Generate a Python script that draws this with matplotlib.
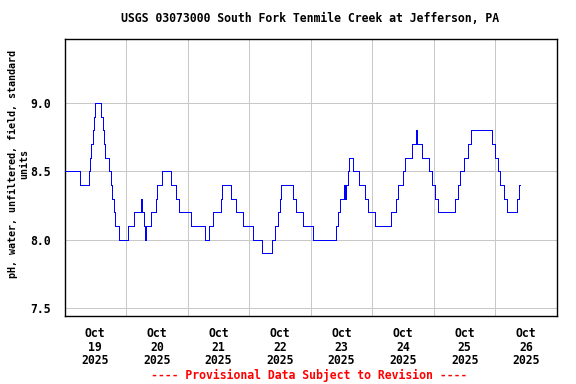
import numpy as np
import matplotlib.pyplot as plt

# pH readings, hours since 2025-10-19 00:00 when the value changed
hours = [0.0, 5.9, 9.4, 10.0, 10.4, 11.2, 11.6, 12.0, 14.1, 15.1, 15.5, 15.9,
         17.4, 18.0, 18.6, 19.1, 19.7, 21.1, 24.8, 27.1, 29.9, 30.4, 30.9,
         31.5, 31.9, 33.7, 35.5, 36.0, 38.0, 41.5, 43.4, 44.5, 49.3, 54.7,
         56.2, 57.7, 61.0, 61.5, 64.9, 66.8, 69.7, 73.5, 77.0, 80.9, 82.0,
         83.2, 84.1, 84.5, 89.2, 90.3, 93.1, 96.7, 105.8, 106.5, 107.3,
         108.8, 109.2, 109.6, 110.6, 110.9, 112.6, 114.9, 117.1, 118.4,
         121.1, 127.2, 129.2, 129.9, 131.9, 132.8, 135.6, 137.1, 137.5,
         139.5, 142.2, 143.4, 144.5, 145.7, 152.3, 153.5, 154.3, 155.8,
         157.4, 158.6, 166.5, 167.7, 168.9, 169.7, 171.3, 172.7, 176.3,
         177.0, 177.5]
ph = [8.5, 8.4, 8.5, 8.6, 8.7, 8.8, 8.9, 9.0, 8.9, 8.8, 8.7, 8.6,
      8.5, 8.4, 8.3, 8.2, 8.1, 8.0, 8.1, 8.2, 8.3, 8.2, 8.1,
      8.0, 8.1, 8.2, 8.3, 8.4, 8.5, 8.4, 8.3, 8.2, 8.1, 8.0,
      8.1, 8.2, 8.3, 8.4, 8.3, 8.2, 8.1, 8.0, 7.9, 8.0, 8.1,
      8.2, 8.3, 8.4, 8.3, 8.2, 8.1, 8.0, 8.1, 8.2, 8.3,
      8.4, 8.3, 8.4, 8.5, 8.6, 8.5, 8.4, 8.3, 8.2,
      8.1, 8.2, 8.3, 8.4, 8.5, 8.6, 8.7, 8.8, 8.7,
      8.6, 8.5, 8.4, 8.3, 8.2, 8.3, 8.4, 8.5, 8.6,
      8.7, 8.8, 8.7, 8.6, 8.5, 8.4, 8.3, 8.2, 8.3,
      8.4, 8.4]

days = ['19', '20', '21', '22', '23', '24', '25', '26']
yticks = [7.5, 8.0, 8.5, 9.0]

plt.rcParams['font.family'] = 'DejaVu Sans Mono'
plt.rcParams['font.weight'] = 'bold'
plt.rcParams['font.size'] = 8.3

fig = plt.figure(figsize=(5.76, 3.84), dpi=100)
ax = fig.add_axes([0.112, 0.177, 0.855, 0.721])

ax.plot(hours, ph, drawstyle='steps-post', color='#0000ff', lw=0.72,
        antialiased=False, zorder=3)

ax.set_xlim(0, 24 * len(days))
ax.set_ylim(7.44, 9.466)

ax.set_xticks([12 + 24 * i for i in range(len(days))])
ax.set_xticklabels(['Oct\n%s\n2025' % d for d in days], linespacing=1.05)
ax.set_xticks([24 * i for i in range(1, len(days))], minor=True)
ax.set_yticks(yticks)
ax.set_yticklabels(['%.1f' % v for v in yticks])

ax.grid(True, which='minor', axis='x', color='#c8c8c8', lw=0.72, antialiased=False)
ax.grid(True, which='major', axis='y', color='#c8c8c8', lw=0.72, antialiased=False)
ax.tick_params(axis='both', which='both', length=0)
ax.tick_params(axis='x', pad=8)
ax.tick_params(axis='y', pad=10)
for s in ax.spines.values():
    s.set_linewidth(1.0)

fig.text(310 / 576, 1 - 19 / 384,
         'USGS 03073000 South Fork Tenmile Creek at Jefferson, PA',
         ha='center', va='center')
fig.text(0.032, 0.572, 'pH, water, unfiltered, field, standard\nunits',
         rotation=90, ha='center', va='center', multialignment='center',
         fontsize=7.2, linespacing=1.1)
fig.text(309 / 576, 1 - 375 / 384,
         '---- Provisional Data Subject to Revision ----',
         ha='center', va='center', color='red')

fig.savefig('out.png', dpi=100)
